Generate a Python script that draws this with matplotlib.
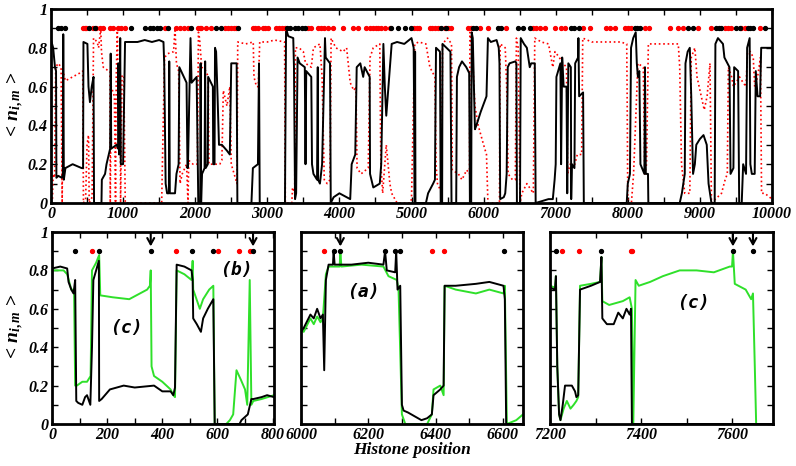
import matplotlib
matplotlib.use("Agg")
import matplotlib.pyplot as plt
from matplotlib.ticker import MultipleLocator

# ---------------- data: top panel (whole chain) ----------------
black_top_x = [0,30,55,70,75,100,150,165,170,178,200,300,425,445,450,505,520,540,565,590,597,700,705,750,770,820,828,835,910,930,935,945,960,968,1000,1027,1100,1200,1300,1400,1500,1560,1570,1590,1610,1635,1640,1648,1720,1740,1770,1780,1880,1893,1900,1935,1950,2020,2043,2070,2075,2082,2095,2130,2138,2145,2175,2180,2245,2250,2268,2275,2290,2310,2330,2370,2440,2480,2500,2575,2585,2780,2800,2870,2885,2895,3245,3260,3290,3360,3370,3385,3400,3420,3450,3520,3530,3540,3610,3620,3640,3690,3700,3705,3730,3760,3800,3810,3870,3880,3920,4000,4100,4150,4170,4220,4240,4290,4330,4350,4420,4425,4470,4560,4580,4610,4630,4650,4700,4725,4800,4900,5000,5030,5045,5050,5055,5200,5230,5300,5325,5340,5395,5405,5425,5430,5540,5555,5620,5630,5660,5700,5760,5800,5810,5828,5835,5850,5880,5900,5960,6040,6060,6100,6180,6210,6220,6230,6280,6300,6320,6335,6360,6440,6455,6462,6505,6515,6560,6600,6640,6660,6710,6722,6900,6960,6985,7000,7010,7050,7065,7075,7090,7110,7150,7160,7175,7210,7215,7225,7260,7270,7310,7315,7325,7380,7390,7985,8000,8030,8045,8075,8110,8125,8140,8160,8175,8230,8238,8250,8280,8285,8720,8750,8790,8800,8830,8860,8880,8905,8930,8950,9000,9050,9095,9120,9160,9205,9215,9250,9320,9340,9410,9425,9465,9475,9530,9545,9580,9600,9640,9655,9690,9700,9720,9760,9775,9800,9835,9850,9900,10000]
black_top_y = [0.84,0.8,0.7,0.68,0.13,0.14,0.13,0.15,0.87,0.12,0.18,0.2,0.18,0.18,0.83,0.82,0.6,0.52,0.6,0.65,0,0,0.12,0.15,0.2,0.28,0.77,0.28,0.3,0.28,0.72,0.25,0.85,0.2,0.2,0.83,0.83,0.83,0.84,0.83,0.84,0.83,0.72,0.1,0.05,0.05,0.73,0.05,0.05,0.15,0.2,0.7,0.62,0.18,0.2,0.85,0.62,0.65,0,0,0.72,0,0.15,0.18,0.73,0.18,0.2,0.65,0.6,0.2,0.2,0.8,0.78,0.55,0.3,0.3,0.27,0.25,0.72,0.72,0,0,0.18,0.2,0.72,0,0,0.9,0.86,0.85,0.7,0.02,0.05,0.75,0.72,0.7,0.2,0.68,0.65,0.2,0.15,0.12,0.7,0.12,0.1,0.2,0.85,0.75,0.72,0,0.03,0.05,0.03,0.02,0.2,0.25,0.7,0.72,0.65,0.7,0.65,0.15,0.08,0.1,0.2,0.82,0.6,0.45,0.7,0.82,0.83,0.82,0.85,0.8,0,0.78,0,0,0.05,0.1,0.12,0.8,0.78,0,0,0.82,0.78,0,0,0.65,0.7,0.73,0.7,0.67,0,0,0.88,0.85,0.38,0.4,0.47,0.55,0.85,0.83,0.84,0.8,0.72,0.02,0.03,0.05,0.15,0.7,0.72,0.73,0.72,0,0,0.85,0.82,0.8,0.7,0.72,0.72,0,0.02,0.02,0.12,0.2,0.65,0.7,0.72,0.2,0.75,0.6,0.6,0.05,0.72,0.7,0.02,0.2,0.18,0.72,0.75,0.85,0.55,0.57,0,0,0.1,0.15,0.8,0.85,0.88,0.72,0.65,0.68,0.2,0.15,0.7,0.15,0.15,0,0,0.05,0.15,0.72,0.78,0.8,0.55,0.15,0.2,0.3,0.33,0.35,0.3,0.1,0,0,0.82,0.85,0.82,0.75,0.7,0.15,0.18,0.7,0.68,0,0,0.2,0.15,0.8,0.85,0.2,0.15,0.15,0.68,0.55,0.55,0.8,0.8,0.8]

red_top_x = [0,20,30,50,65,100,140,155,165,200,300,400,440,450,480,500,520,530,570,590,640,660,690,700,725,800,818,822,835,880,895,905,920,930,960,965,985,1010,1030,1535,1545,1575,1620,1700,1720,1740,1770,1790,1820,1880,1900,1910,1970,2030,2045,2060,2090,2150,2180,2190,2260,2340,2370,2390,2440,2480,2500,2540,2580,2590,2700,2805,2815,2850,2875,2895,3000,3100,3240,3250,3340,3350,3380,3390,3440,3500,3530,3610,3640,3730,3760,3790,3830,3870,3885,3950,4050,4100,4150,4200,4230,4245,4300,4400,4425,4470,4560,4575,4600,4650,4700,4725,4800,4980,5000,5045,5100,5200,5255,5325,5340,5360,5420,5430,5500,5555,5565,5650,5700,5765,5805,5810,5840,5880,5925,6000,6040,6060,6220,6230,6300,6320,6340,6400,6440,6455,6480,6505,6530,6600,6690,6710,6800,6900,6960,6990,7050,7100,7150,7165,7200,7265,7300,7360,7375,7500,7700,7900,7985,7990,8000,8050,8080,8140,8215,8235,8260,8285,8500,8700,8720,8745,8790,8860,8880,8930,8960,9060,9100,9140,9160,9300,9350,9380,9395,9440,9465,9550,9600,9640,9660,9700,9740,9760,9800,9840,9855,9900,10000]
red_top_y = [0,0.02,0.15,0.13,0.7,0.72,0.7,0,0.68,0.63,0.65,0.67,0.68,0,0.02,0.3,0.35,0,0.03,0.85,0.83,0.8,0.9,0.78,0.7,0.68,0.68,0,0.6,0.55,0,0.65,0.9,0.62,0.65,0,0.66,0.65,0,0,0.2,0.75,0.77,0.78,0.9,0.72,0.68,0.1,0.15,0.2,0,0.22,0.2,0.2,0.88,0.85,0.7,0.68,0.65,0.2,0.2,0.2,0.22,0.58,0.5,0.6,0.2,0.15,0.1,0.83,0.82,0.83,0.65,0.6,0.6,0.83,0.83,0.84,0.83,0,0,0.08,0.05,0.8,0.8,0.78,0.72,0.7,0.8,0.82,0.65,0.12,0.1,0.12,0.85,0.8,0.78,0.8,0.62,0.58,0.6,0.18,0.15,0.18,0.75,0.8,0.82,0.2,0.05,0.3,0.1,0.05,0,0,0.02,0.82,0.83,0.82,0.7,0.65,0.2,0.1,0.05,0.82,0.85,0.82,0.17,0.15,0.12,0.17,0.15,0.88,0.8,0.5,0.4,0.3,0.25,0,0,0.82,0.8,0.6,0.15,0.12,0.12,0.85,0.8,0,0.05,0.1,0.05,0.85,0.83,0.82,0.7,0.78,0.75,0.72,0.7,0.15,0.2,0.2,0.25,0.25,0.85,0.83,0.83,0.83,0.82,0.6,0,0,0.15,0.72,0.7,0.15,0.2,0.82,0.82,0.82,0.7,0.2,0.05,0.05,0.75,0.8,0.65,0.48,0.55,0.72,0,0.05,0.12,0.15,0.7,0.65,0.6,0.65,0.62,0.6,0.78,0.78,0.75,0.6,0.65,0.75,0.05,0.05,0.02]

black_dots_top = [97,143,190,522,605,1114,1300,1370,1420,1465,1510,1620,1946,2290,2360,2594,3280,3310,3380,3430,3475,3520,4720,4810,4905,4998,5413,5480,5850,5900,6200,6245,6476,6546,6638,7215,7260,7330,8095,8130,8165,8835,8905,9228,9260,9297,9505,9550,9667,9700,9736,9898]
red_dots_top = [444,470,490,583,628,675,720,813,860,930,975,1020,1576,1740,1785,1850,1900,2038,2060,2085,2155,2223,2410,2455,2500,2535,2570,2800,2835,2870,2940,2975,3010,3125,3160,3200,3240,3565,3610,3700,3740,3790,3840,3910,4050,4190,4260,4375,4420,4465,4510,4535,4580,4630,4700,5040,5075,5110,5250,5290,5330,5370,5460,5500,5550,5783,5830,5945,6060,6315,6685,6730,6780,6850,6985,7080,7124,7380,7470,7700,7760,7820,7957,8000,8050,8235,8300,8580,8700,8765,8973,9158,9343,9390,9436,9575,9620,9829]

# ---------------- data: zoom panel 1 (0-805) ----------------
p1_black_x = [0,30,55,60,70,78,84,88,95,110,120,127,139,145,150,160,170,171,180,210,260,300,370,400,430,440,446,452,480,506,510,512,525,540,548,565,585,590,680,687,710,723,730,760,780,805]
p1_black_y = [0.81,0.82,0.81,0.74,0.7,0.68,0.75,0.12,0.11,0.1,0.14,0.15,0.1,0.4,0.75,0.8,0.85,0.12,0.13,0.18,0.2,0.19,0.2,0.17,0.17,0.15,0.19,0.83,0.82,0.8,0.75,0.55,0.52,0.48,0.55,0.6,0.65,0,0,0.02,0.05,0.13,0.13,0.14,0.15,0.14]
p1_green_x = [0,42,55,70,80,84,90,110,127,140,145,160,171,175,220,280,345,355,358,361,370,400,430,440,446,452,480,506,510,512,536,548,570,585,590,632,645,657,669,685,700,708,717,723,730,760,805]
p1_green_y = [0.8,0.8,0.78,0.7,0.7,0.2,0.2,0.22,0.22,0.25,0.8,0.84,0.88,0.67,0.66,0.65,0.7,0.72,0.8,0.3,0.25,0.22,0.18,0.15,0.14,0.8,0.78,0.75,0.85,0.7,0.6,0.65,0.7,0.72,0,0,0.02,0.05,0.28,0.23,0.18,0.1,0.75,0.1,0.12,0.13,0.15]
p1_black_dots = [84,171,358,506,585,729]
p1_red_dots = [145,450,603,679,719]
p1_arrows = [358,729]

# ---------------- data: zoom panel 2 (6000-6660) ----------------
p2_black_x = [6000,6008,6028,6038,6048,6058,6065,6069,6074,6082,6095,6097,6100,6150,6200,6245,6250,6255,6280,6283,6287,6295,6300,6305,6318,6338,6358,6375,6389,6394,6414,6424,6427,6460,6520,6560,6602,6606,6610,6660]
p2_black_y = [0.48,0.5,0.57,0.55,0.6,0.55,0.57,0.28,0.75,0.83,0.83,0.9,0.83,0.83,0.84,0.83,0.9,0.8,0.79,0.9,0.7,0.72,0.1,0.07,0.06,0.04,0.02,0.03,0.05,0.15,0.18,0.2,0.72,0.72,0.73,0.74,0.72,0.65,0,0]
p2_green_x = [6000,6008,6028,6038,6048,6058,6065,6074,6082,6115,6117,6120,6180,6245,6260,6285,6290,6300,6310,6375,6389,6394,6414,6424,6427,6460,6520,6560,6602,6606,6612,6640,6660]
p2_green_y = [0.5,0.48,0.55,0.52,0.56,0.53,0.55,0.78,0.82,0.82,0.9,0.82,0.83,0.82,0.77,0.75,0.7,0.05,0,0,0.05,0.18,0.2,0.15,0.72,0.7,0.68,0.7,0.68,0.72,0,0.02,0.05]
p2_black_dots = [6097,6117,6250,6280,6295,6604]
p2_red_dots = [6067,6389,6424]
p2_arrows = [6117]

# ---------------- data: zoom panel 3 (7200-7690) ----------------
p3_black_x = [7200,7211,7213,7216,7220,7223,7228,7233,7248,7255,7258,7262,7266,7290,7310,7313,7315,7325,7340,7350,7360,7368,7375,7378,7380,7690]
p3_black_y = [0.71,0.7,0.77,0.3,0.05,0.02,0.1,0.2,0.2,0.17,0.14,0.15,0.7,0.72,0.74,0.87,0.55,0.52,0.52,0.58,0.55,0.6,0.57,0.6,0,0]
p3_green_x = [7200,7211,7213,7216,7220,7223,7230,7237,7245,7252,7258,7262,7266,7290,7310,7313,7315,7330,7360,7375,7380,7383,7388,7395,7420,7448,7485,7522,7560,7595,7600,7602,7606,7630,7642,7646,7650,7653,7690]
p3_green_y = [0.72,0.71,0.77,0.3,0.05,0.02,0.08,0.12,0.08,0.1,0.12,0.14,0.72,0.73,0.74,0.87,0.64,0.62,0.64,0.66,0.6,0,0.75,0.72,0.74,0.77,0.8,0.8,0.79,0.82,0.82,0.9,0.73,0.7,0.65,0.68,0.3,0,0]
p3_black_dots = [7213,7313,7602,7646]
p3_red_dots = [7226,7264,7377,7380]
p3_arrows = [7602,7646]

labels_text = [("(c)", 271, 0.5), ("(b)", 669, 0.8), ("(a)", 6186, 0.69), ("(c)", 7514, 0.63)]

# ---------------- style ----------------
plt.rcParams["font.family"] = "Liberation Serif"
plt.rcParams["mathtext.fontset"] = "custom"
plt.rcParams["mathtext.it"] = "Liberation Serif:italic:bold"
plt.rcParams["mathtext.rm"] = "Liberation Serif:bold"
plt.rcParams["mathtext.bf"] = "Liberation Serif:bold"

W, H = 796, 466
fig = plt.figure(figsize=(W / 100, H / 100), dpi=100)

def frac(l, t, r, b):
    return [l / W, 1 - b / H, (r - l) / W, (b - t) / H]

ax_top = fig.add_axes(frac(51, 9, 772, 203))
ax1 = fig.add_axes(frac(52, 232, 274, 424))
ax2 = fig.add_axes(frac(301, 232, 523, 424))
ax3 = fig.add_axes(frac(550, 232, 773, 424))

TICKFONT = dict(family="Liberation Serif", weight="bold", style="italic", size=11.5)
GREEN = "#2fe02a"

def style(ax, xmin, xmax, major, minor, ylabels=True):
    ax.set_xlim(xmin, xmax)
    ax.set_ylim(0, 1)
    ax.xaxis.set_minor_locator(MultipleLocator(minor))
    ax.yaxis.set_minor_locator(MultipleLocator(0.1))
    ax.tick_params(which="both", direction="in", top=True, right=True, width=1)
    ax.tick_params(which="major", length=4, pad=2.5)
    ax.tick_params(which="minor", length=4)
    for s in ax.spines.values():
        s.set_linewidth(2)
    first = (int(xmin) // major) * major
    if first < xmin:
        first += major
    xt = list(range(first, int(xmax) + 1, major))
    ax.set_xticks(xt)
    ax.set_xticklabels([f"{t}" for t in xt], **TICKFONT)
    yt = [0, 0.2, 0.4, 0.6, 0.8, 1.0]
    ax.set_yticks(yt)
    if ylabels:
        ax.set_yticklabels(["0", "0.2", "0.4", "0.6", "0.8", "1"], **TICKFONT)
    else:
        ax.set_yticklabels([])
    ax.set_xlim(xmin, xmax)
    ax.set_ylim(0, 1)

# top panel
ax_top.plot(red_top_x, red_top_y, color="red", lw=1.2, ls=":", zorder=2)
ax_top.plot(black_top_x, black_top_y, color="black", lw=1.4, zorder=3)
ax_top.plot(red_dots_top, [0.9] * len(red_dots_top), "o", color="red", ms=2.8, zorder=4)
ax_top.plot(black_dots_top, [0.9] * len(black_dots_top), "o", color="black", ms=2.8, zorder=5)
style(ax_top, 0, 10000, 1000, 500)

panels = [
    (ax1, 0, 805, p1_black_x, p1_black_y, p1_green_x, p1_green_y, p1_black_dots, p1_red_dots, p1_arrows, True),
    (ax2, 6000, 6660, p2_black_x, p2_black_y, p2_green_x, p2_green_y, p2_black_dots, p2_red_dots, p2_arrows, False),
    (ax3, 7200, 7690, p3_black_x, p3_black_y, p3_green_x, p3_green_y, p3_black_dots, p3_red_dots, p3_arrows, False),
]
for ax, x0, x1, bx, by, gx, gy, bd, rd, arr, yl in panels:
    ax.plot(gx, gy, color=GREEN, lw=1.4, zorder=2)
    ax.plot(bx, by, color="black", lw=1.4, zorder=3)
    ax.plot(rd, [0.9] * len(rd), "o", color="red", ms=2.8, zorder=4)
    ax.plot(bd, [0.9] * len(bd), "o", color="black", ms=2.8, zorder=5)
    for a in arr:
        ax.annotate("", xy=(a, 0.925), xytext=(a, 0.995),
                    arrowprops=dict(arrowstyle="->,head_width=0.25,head_length=0.45",
                                    lw=1.5, color="black", shrinkA=0, shrinkB=0))
    style(ax, x0, x1, 200, 100, yl)

for (t, x, y), ax in zip(labels_text, [ax1, ax1, ax2, ax3]):
    ax.text(x, y, t, family="DejaVu Sans Mono", weight="bold", style="oblique",
            size=13, ha="center", va="center")

ylab = r"$<\,n_{i,m}\,>$"
fig.text(15 / W, 1 - 106 / H, ylab, rotation=90, ha="center", va="center", size=14)
fig.text(15 / W, 1 - 328 / H, ylab, rotation=90, ha="center", va="center", size=14)
fig.text(412 / W, 1 - 450 / H, "Histone position", family="Liberation Serif",
         weight="bold", style="italic", size=12.5, ha="center", va="center")

fig.savefig("out.png", dpi=100)
